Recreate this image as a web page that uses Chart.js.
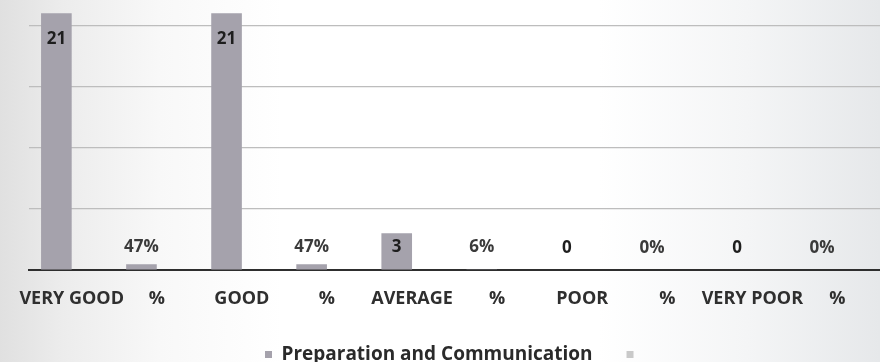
<!DOCTYPE html>
<html>
<head>
<meta charset="utf-8">
<script src="https://cdn.jsdelivr.net/npm/chart.js@4/dist/chart.umd.min.js"></script>
<style>
  html, body { margin: 0; padding: 0; }
  body {
    width: 880px; height: 362px; overflow: hidden;
    background: linear-gradient(to right, #e0e0e0 0%, #ececec 7%, #f8f8f8 18%, #ffffff 32%, #ffffff 68%, #f4f5f6 85%, #e6e8ea 100%);
  }
  #wrap { position: relative; width: 880px; height: 362px; overflow: hidden; }
  canvas { display: block; }
</style>
</head>
<body>
<div id="wrap"><canvas id="c" width="880" height="374"></canvas></div>
<script>
// ---- data ----
const categories = ["VERY GOOD", "%", "GOOD", "%", "AVERAGE", "%", "POOR", "%", "VERY POOR", "%"];
const seriesName = "Preparation and Communication";
const seriesValues = [21, 0.47, 21, 0.47, 3, 0.06, 0, 0, 0, 0];
const isPercent = [false, true, false, true, false, true, false, true, false, true];
const secondSeriesName = "";
const secondSeriesValues = [null, null, null, null, null, null, null, null, null, null];
const yTickStep = 5;
const yMax = 22;

const FONT = "'Open Sans', 'Noto Sans', sans-serif";

const labelPlugin = {
  id: 'barLabels',
  afterDatasetsDraw(chart) {
    const meta = chart.getDatasetMeta(0);
    const ctx = chart.ctx;
    ctx.save();
    ctx.font = "bold 17px " + FONT;
    ctx.textAlign = 'center';
    ctx.textBaseline = 'middle';
    meta.data.forEach((el, i) => {
      const v = seriesValues[i];
      const txt = isPercent[i] ? Math.round(v * 100) + '%' : String(v);
      const y = Math.min(el.y + 26, el.base - 22);
      ctx.fillStyle = isPercent[i] ? '#3a3a3a' : '#1e1e1e';
      ctx.fillText(txt, el.x, y);
    });
    ctx.restore();
  }
};

new Chart(document.getElementById('c'), {
  type: 'bar',
  data: {
    labels: categories,
    datasets: [
      { label: seriesName, data: seriesValues, backgroundColor: '#a5a2ac', borderWidth: 0 },
      { label: secondSeriesName, data: secondSeriesValues, backgroundColor: '#c9c9c9', borderWidth: 0 }
    ]
  },
  options: {
    responsive: false,
    animation: false,
    events: [],
    layout: { padding: { left: 28, right: 0, top: 1, bottom: 0 } },
    datasets: { bar: { categoryPercentage: 0.72, barPercentage: 1.0 } },
    scales: {
      x: {
        grid: { display: false, drawTicks: false },
        border: { display: true, color: '#2e2e2e', width: 2 },
        ticks: {
          color: '#2f2f2f',
          font: { family: FONT, size: 18, weight: 'bold' },
          padding: 18,
          maxRotation: 0, autoSkip: false
        },
        afterFit: (axis) => { axis.height = 41; }
      },
      y: {
        min: 0, max: yMax,
        ticks: { display: false, stepSize: yTickStep },
        border: { display: false },
        grid: {
          drawTicks: false,
          color: (c) => (c.tick && c.tick.value > 0 && c.tick.value % yTickStep === 0) ? '#bdbdbd' : 'rgba(0,0,0,0)',
          lineWidth: 1.2
        }
      }
    },
    plugins: {
      tooltip: { enabled: false },
      legend: {
        position: 'bottom',
        labels: {
          color: '#2a2a2a',
          font: { family: FONT, size: 19, weight: 'bold' },
          boxWidth: 7, boxHeight: 7,
          padding: 34
        }
      }
    }
  },
  plugins: [labelPlugin]
});
</script>
</body>
</html>
